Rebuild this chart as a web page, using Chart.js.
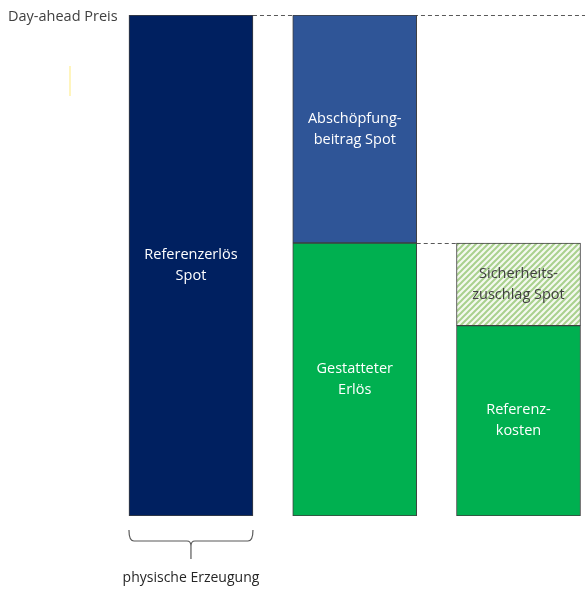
<!DOCTYPE html>
<html>
<head>
<meta charset="utf-8">
<script src="https://cdn.jsdelivr.net/npm/chart.js"></script>
<style>
  body { margin: 0; background: #fff; }
  #wrap { width: 585px; height: 590px; }
</style>
</head>
<body>
<div id="wrap"><canvas id="price-chart" width="585" height="590"></canvas></div>
<script>
// bar positions (category index) and values, 100 = Day-ahead Preis
const barIndex = [1, 2, 3];
const baseValues = [100, 54.5, 38];
const topValues = [null, 45.5, 16.5];
const baseLabels = [['Referenzerlös', 'Spot'], ['Gestatteter', 'Erlös'], ['Referenz-', 'kosten']];
const topLabels = [[], ['Abschöpfung-', 'beitrag Spot'], ['Sicherheits-', 'zuschlag Spot']];
const priceLabel = 'Day-ahead Preis';
const braceLabel = 'physische Erzeugung';

const FONT = "'Open Sans', sans-serif";

// hatch pattern for Sicherheitszuschlag
function hatchPattern(){
    const c = document.createElement('canvas');
    c.width = 6; c.height = 6;
    const g = c.getContext('2d');
    g.fillStyle = '#f4f9ef';
    g.fillRect(0, 0, 6, 6);
    g.strokeStyle = '#a9d18e';
    g.lineWidth = 2;
    g.beginPath();
    g.moveTo(-1, 7); g.lineTo(7, -1);
    g.moveTo(-4, 4); g.lineTo(4, -4);
    g.moveTo(2, 10); g.lineTo(10, 2);
    g.stroke();
    return g.createPattern(c, 'repeat');
}

const baseColors = ['#002060', '#00b050', '#00b050'];
const topColors = [null, '#2f5597', hatchPattern()];
const baseText = ['#ffffff', '#ffffff', '#ffffff'];
const topText = [null, '#ffffff', '#404040'];

const extras = {
    id: 'extras',
    beforeDatasetsDraw(chart){
        const ctx = chart.ctx;
        const b = chart.getDatasetMeta(0).data;
        ctx.save();
        ctx.strokeStyle = '#595959';
        ctx.lineWidth = 1;
        ctx.setLineDash([4, 3]);
        // price level line
        let y = Math.round(b[0].y) + 0.5;
        ctx.beginPath();
        ctx.moveTo(b[0].x + b[0].width / 2, y);
        ctx.lineTo(chart.width, y);
        ctx.stroke();
        // allowed revenue level line
        y = Math.round(b[1].y) + 0.5;
        ctx.beginPath();
        ctx.moveTo(b[1].x + b[1].width / 2, y);
        ctx.lineTo(b[2].x, y);
        ctx.stroke();
        ctx.restore();
    },
    afterDatasetsDraw(chart){
        const ctx = chart.ctx;
        const b = chart.getDatasetMeta(0).data;
        const t = chart.getDatasetMeta(1).data;
        ctx.save();
        ctx.font = '14.5px ' + FONT;
        ctx.textAlign = 'center';
        ctx.textBaseline = 'middle';
        const drawLines = (el, lines, color) => {
            if (!el || !lines.length) return;
            const cy = (el.y + el.base) / 2;
            ctx.fillStyle = color;
            lines.forEach((s, k) => {
                ctx.fillText(s, el.x, cy + (k - (lines.length - 1) / 2) * 21);
            });
        };
        barIndex.forEach((_, i) => {
            drawLines(b[i], baseLabels[i], baseText[i]);
            if (topValues[i] !== null) drawLines(t[i], topLabels[i], topText[i]);
        });

        // price label
        ctx.fillStyle = '#404040';
        ctx.textAlign = 'left';
        ctx.fillText(priceLabel, 8, b[0].y + 2);

        // stray marker line
        ctx.strokeStyle = '#fff2a8';
        ctx.lineWidth = 1.5;
        ctx.beginPath();
        ctx.moveTo(70, 66); ctx.lineTo(70, 96);
        ctx.stroke();

        // brace below first bar
        const left = b[0].x - b[0].width / 2;
        const right = b[0].x + b[0].width / 2;
        const mid = b[0].x;
        const top = b[0].base + 14;
        const h = top + 11;
        ctx.strokeStyle = '#595959';
        ctx.lineWidth = 1.2;
        ctx.beginPath();
        ctx.moveTo(left, top);
        ctx.quadraticCurveTo(left, h, left + 5, h);
        ctx.lineTo(mid - 4, h);
        ctx.quadraticCurveTo(mid, h, mid, h + 5);
        ctx.lineTo(mid, h + 18);
        ctx.moveTo(mid, h + 5);
        ctx.quadraticCurveTo(mid, h, mid + 4, h);
        ctx.lineTo(right - 5, h);
        ctx.quadraticCurveTo(right, h, right, top);
        ctx.stroke();

        ctx.fillStyle = '#262626';
        ctx.textAlign = 'center';
        ctx.font = '14px ' + FONT;
        ctx.fillText(braceLabel, mid, h + 37);
        ctx.restore();
    }
};

function d2c_priceChart(){
    const el = document.getElementById('price-chart');
    new Chart(el, {
        type: 'bar',
        data: {
            datasets: [{
                label: 'Basis',
                data: barIndex.map((x, i) => ({x: x, y: baseValues[i]})),
                backgroundColor: baseColors,
                borderColor: '#3f3f3f',
                borderWidth: 1,
                borderSkipped: false,
                barThickness: 124
            }, {
                label: 'Aufschlag',
                data: barIndex.map((x, i) => ({x: x, y: topValues[i]})),
                backgroundColor: topColors,
                borderColor: '#3f3f3f',
                borderWidth: 1,
                borderSkipped: false,
                barThickness: 124
            }]
        },
        options: {
            responsive: false,
            animation: false,
            layout: { padding: { top: 15, bottom: 74, left: 0, right: 0 } },
            plugins: {
                legend: { display: false },
                tooltip: { enabled: false }
            },
            scales: {
                x: { type: 'linear', stacked: true, offset: false, min: -0.166, max: 3.406, display: false },
                y: { stacked: true, min: 0, max: 100, display: false }
            }
        },
        plugins: [extras]
    });
}d2c_priceChart();
</script>
</body>
</html>
